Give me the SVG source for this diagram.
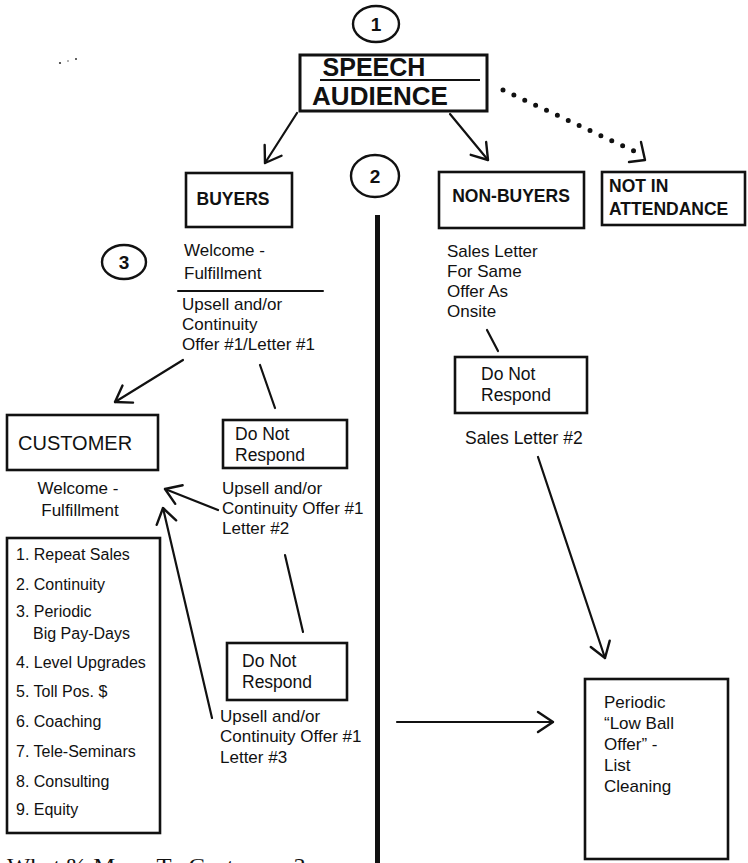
<svg xmlns="http://www.w3.org/2000/svg" width="748" height="863" viewBox="0 0 748 863">
<style>
  .box { fill: #fff; stroke: #111; stroke-width: 2.6; }
  .circ { fill: none; stroke: #111; stroke-width: 2.4; }
  .t { font-family: "Liberation Sans", Arial, Helvetica, sans-serif; font-size: 17px; fill: #111; }
  .tb { font-family: "Liberation Sans", Arial, Helvetica, sans-serif; font-size: 17.5px; font-weight: bold; fill: #111; }
  .tl { font-family: "Liberation Sans", Arial, Helvetica, sans-serif; font-size: 16px; fill: #111; }
  .num { font-family: "Liberation Sans", Arial, Helvetica, sans-serif; font-size: 19px; font-weight: bold; fill: #111; text-anchor: middle; }
  .conn { fill: none; stroke: #111; stroke-width: 2.2; stroke-linecap: round; }
  .arrow { marker-end: url(#ah); }
  .dots { fill: none; stroke: #111; stroke-width: 5; stroke-linecap: round; stroke-dasharray: 0 12; }
  .ahp { fill: none; stroke: #111; stroke-width: 2.4; stroke-linecap: round; stroke-linejoin: round; }
</style>
<defs>
  <marker id="ah" viewBox="0 0 20 20" refX="19" refY="10" markerWidth="20" markerHeight="20" markerUnits="userSpaceOnUse" orient="auto" overflow="visible">
    <path class="ahp" d="M4,0 L19,10 L4,20"/>
  </marker>
</defs>
<rect width="748" height="863" fill="#fff"/>

<g id="specks" fill="#333">
  <circle cx="60" cy="63" r="1.1"/>
  <circle cx="68" cy="61" r="0.7"/>
  <circle cx="76" cy="59" r="1"/>
</g>

<g id="connectors">
  <path class="conn arrow" d="M297,113 L265,163"/>
  <path class="conn arrow" d="M450,114 L488,160"/>
  <path class="dots" d="M503,90 L636,152"/>
  <path class="ahp" d="M641,142 L645,160 L629,162"/>
  <path class="conn arrow" d="M183,360 L115,402"/>
  <path class="conn" d="M260,365 L275,408"/>
  <path class="conn arrow" d="M218,510 L165,489"/>
  <path class="conn arrow" d="M212,718 L163,508"/>
  <path class="conn" d="M285,555 L303,632"/>
  <path class="conn arrow" d="M397,722 L553,722"/>
  <path class="conn" d="M487,330 L498,351"/>
  <path class="conn arrow" d="M538,457 L605,658"/>
  <path class="conn" d="M178,291 L323,291" style="stroke-width:2"/>
</g>

<g id="divider">
  <rect x="375" y="215" width="5" height="648" fill="#111"/>
</g>

<g id="circle1">
  <ellipse class="circ" cx="376" cy="24" rx="23" ry="18"/>
  <text class="num" x="376" y="31">1</text>
</g>

<g id="circle2">
  <ellipse class="circ" cx="375" cy="176" rx="24" ry="21"/>
  <text class="num" x="375" y="183">2</text>
</g>

<g id="circle3">
  <ellipse class="circ" cx="124" cy="262" rx="22" ry="17"/>
  <text class="num" x="124" y="269">3</text>
</g>

<g id="speech-audience">
  <rect class="box" x="300" y="55" width="187" height="56" style="stroke-width:3"/>
  <text class="tb" x="374" y="76" text-anchor="middle" style="font-size:25px">SPEECH</text>
  <line x1="320" y1="80" x2="480" y2="80" stroke="#111" stroke-width="2"/>
  <text class="tb" x="380" y="105" text-anchor="middle" style="font-size:26px">AUDIENCE</text>
</g>

<g id="buyers">
  <rect class="box" x="186" y="173" width="106" height="54"/>
  <text class="tb" x="233" y="205" text-anchor="middle">BUYERS</text>
</g>

<g id="non-buyers">
  <rect class="box" x="439" y="172" width="145" height="56"/>
  <text class="tb" x="511" y="202" text-anchor="middle">NON-BUYERS</text>
</g>

<g id="not-in-attendance">
  <rect class="box" x="602" y="172" width="143" height="53"/>
  <text class="tb" x="609" y="192">NOT IN</text>
  <text class="tb" x="609" y="215">ATTENDANCE</text>
</g>

<g id="buyers-welcome">
  <text class="t" x="184" y="256">Welcome -</text>
  <text class="t" x="184" y="279">Fulfillment</text>
</g>

<g id="upsell-1">
  <text class="t" x="182" y="310">Upsell and/or</text>
  <text class="t" x="182" y="330">Continuity</text>
  <text class="t" x="182" y="350">Offer #1/Letter #1</text>
</g>

<g id="customer">
  <rect class="box" x="7" y="415" width="151" height="55"/>
  <text class="t" x="18" y="450" style="font-size:20px">CUSTOMER</text>
</g>

<g id="customer-welcome">
  <text class="t" x="78" y="494" text-anchor="middle">Welcome -</text>
  <text class="t" x="80" y="516" text-anchor="middle">Fulfillment</text>
</g>

<g id="do-not-respond-1">
  <rect class="box" x="223" y="420" width="124" height="48"/>
  <text class="t" x="235" y="440" style="font-size:17.5px">Do Not</text>
  <text class="t" x="235" y="461" style="font-size:17.5px">Respond</text>
</g>

<g id="upsell-2">
  <text class="t" x="222" y="494">Upsell and/or</text>
  <text class="t" x="222" y="514">Continuity Offer #1</text>
  <text class="t" x="222" y="534">Letter #2</text>
</g>

<g id="customer-list">
  <rect class="box" x="7" y="538" width="153" height="295"/>
  <text class="tl" x="16" y="560">1. Repeat Sales</text>
  <text class="tl" x="16" y="590">2. Continuity</text>
  <text class="tl" x="16" y="617">3. Periodic</text>
  <text class="tl" x="33" y="639">Big Pay-Days</text>
  <text class="tl" x="16" y="668">4. Level Upgrades</text>
  <text class="tl" x="16" y="697">5. Toll Pos. $</text>
  <text class="tl" x="16" y="727">6. Coaching</text>
  <text class="tl" x="16" y="757">7. Tele-Seminars</text>
  <text class="tl" x="16" y="787">8. Consulting</text>
  <text class="tl" x="16" y="815">9. Equity</text>
</g>

<g id="do-not-respond-2">
  <rect class="box" x="227" y="643" width="120" height="57"/>
  <text class="t" x="242" y="667" style="font-size:17.5px">Do Not</text>
  <text class="t" x="242" y="688" style="font-size:17.5px">Respond</text>
</g>

<g id="upsell-3">
  <text class="t" x="220" y="722">Upsell and/or</text>
  <text class="t" x="220" y="742">Continuity Offer #1</text>
  <text class="t" x="220" y="763">Letter #3</text>
</g>

<g id="non-buyers-letter">
  <text class="t" x="447" y="257">Sales Letter</text>
  <text class="t" x="447" y="277">For Same</text>
  <text class="t" x="447" y="297">Offer As</text>
  <text class="t" x="447" y="317">Onsite</text>
</g>

<g id="do-not-respond-3">
  <rect class="box" x="455" y="357" width="132" height="56"/>
  <text class="t" x="481" y="380" style="font-size:17.5px">Do Not</text>
  <text class="t" x="481" y="401" style="font-size:17.5px">Respond</text>
</g>

<g id="sales-letter-2">
  <text class="t" x="465" y="444" style="font-size:17.5px">Sales Letter #2</text>
</g>

<g id="periodic-low-ball">
  <rect class="box" x="585" y="679" width="143" height="180"/>
  <text class="t" x="604" y="708">Periodic</text>
  <text class="t" x="604" y="729">“Low Ball</text>
  <text class="t" x="604" y="750">Offer” -</text>
  <text class="t" x="604" y="771">List</text>
  <text class="t" x="604" y="792">Cleaning</text>
</g>

<g id="footer">
  <text x="7" y="873" textLength="298" lengthAdjust="spacingAndGlyphs" style="font-family:'Liberation Serif','Times New Roman',serif;font-size:22px;fill:#111">What % Move To Customers?</text>
</g>
</svg>
